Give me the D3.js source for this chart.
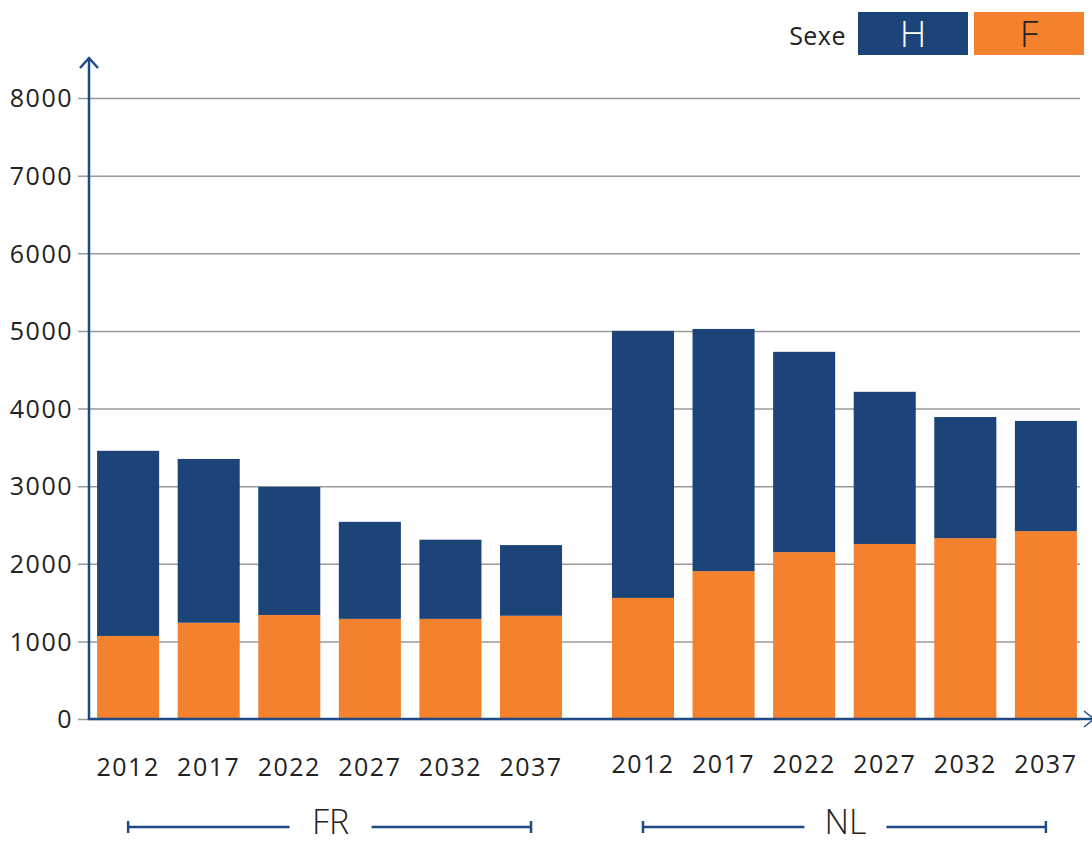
<!DOCTYPE html>
<html>
<head>
<meta charset="utf-8">
<script src="https://cdn.jsdelivr.net/npm/d3@7"></script>
<style>
    body { margin: 0; background: #fff; }
    text { font-family: "Open Sans", sans-serif; fill: #222; }
</style>
</head>
<body>
<div id="chart"></div>
<script>
// data
var groups = ["FR", "NL"];
var years = ["2012", "2017", "2022", "2027", "2032", "2037"];
var femmesFR = [1070, 1240, 1340, 1290, 1290, 1330];
var hommesFR = [2385, 2110, 1650, 1250, 1020, 910];
var femmesNL = [1560, 1905, 2150, 2255, 2330, 2420];
var hommesNL = [3440, 3120, 2580, 1960, 1560, 1420];
var yTicks = [0, 1000, 2000, 3000, 4000, 5000, 6000, 7000, 8000];
var sexes = ["F", "H"];

var colors = {H: "#1c4479", F: "#f3812e"};
var axisColor = "#1f4a85";

var width = 1092, height = 843;

var svg = d3.select("#chart").append("svg")
    .attr("width", width)
    .attr("height", height);

// build rows for the stack
var rows = [];
groups.forEach(function(g) {
    var f = g === "FR" ? femmesFR : femmesNL;
    var h = g === "FR" ? hommesFR : hommesNL;
    years.forEach(function(y, i) {
        rows.push({group: g, year: y, F: f[i], H: h[i]});
    });
});

var series = d3.stack().keys(sexes)(rows);

var yScale = d3.scaleLinear()
    .domain([0, 8000])
    .range([719, 98]);

var x0 = d3.scaleBand()
    .domain(groups)
    .range([85, 1089])
    .paddingInner(0.05);

var x1 = d3.scaleBand()
    .domain(years)
    .range([0, x0.bandwidth()])
    .paddingInner(0.23)
    .paddingOuter(0.15);

// gridlines + ticks
var yAxis = d3.axisLeft(yScale)
    .tickValues(yTicks)
    .tickSize(-(1080 - 89))
    .tickPadding(16)
    .tickFormat(d3.format("d"));

var gy = svg.append("g")
    .attr("transform", "translate(89,0)")
    .call(yAxis);
gy.select(".domain").remove();
gy.selectAll(".tick line")
    .attr("x1", -11)
    .attr("stroke", "#9a9a9a")
    .attr("stroke-width", 1.5);
gy.selectAll(".tick text")
    .style("font-size", "25px")
    .style("letter-spacing", "1.5px")
    .attr("fill", "#222")
    .attr("dy", "0.35em");

// bars
svg.append("g").selectAll("g")
    .data(series)
    .enter()
    .append("g")
    .attr("fill", function(d) { return colors[d.key]; })
    .selectAll("rect")
    .data(function(d) { return d; })
    .enter()
    .append("rect")
    .attr("x", function(d) { return x0(d.data.group) + x1(d.data.year); })
    .attr("y", function(d) { return yScale(d[1]); })
    .attr("width", x1.bandwidth())
    .attr("height", function(d) { return yScale(d[0]) - yScale(d[1]); });

// axes lines with arrows
svg.append("line")
    .attr("x1", 89).attr("x2", 89)
    .attr("y1", 720).attr("y2", 58)
    .attr("stroke", axisColor)
    .attr("stroke-width", 2.5);
svg.append("path")
    .attr("d", "M80,68 L89,58 L98,68")
    .attr("fill", "none")
    .attr("stroke", axisColor)
    .attr("stroke-width", 2.5);
svg.append("line")
    .attr("x1", 88).attr("x2", 1092)
    .attr("y1", 719).attr("y2", 719)
    .attr("stroke", axisColor)
    .attr("stroke-width", 2.5);
svg.append("path")
    .attr("d", "M1084,711 L1094,719 L1084,727")
    .attr("fill", "none")
    .attr("stroke", axisColor)
    .attr("stroke-width", 1.5);

// year labels
svg.append("g").selectAll("text")
    .data(rows)
    .enter()
    .append("text")
    .attr("x", function(d) { return x0(d.group) + x1(d.year) + x1.bandwidth() / 2; })
    .attr("y", function(d) { return d.group === "FR" ? 776 : 773; })
    .style("text-anchor", "middle")
    .style("font-size", "25px")
    .style("letter-spacing", "1.5px")
    .text(function(d) { return d.year; });

// group brackets
groups.forEach(function(g) {
    var left = x0(g) + x1(years[0]) + x1.bandwidth() / 2;
    var right = x0(g) + x1(years[years.length - 1]) + x1.bandwidth() / 2;
    var mid = (left + right) / 2;
    var yb = 827;
    var bracket = svg.append("g")
        .attr("stroke", axisColor)
        .attr("stroke-width", 2.5);
    bracket.append("line").attr("x1", left).attr("x2", mid - 40).attr("y1", yb).attr("y2", yb);
    bracket.append("line").attr("x1", mid + 42).attr("x2", right).attr("y1", yb).attr("y2", yb);
    bracket.append("line").attr("x1", left).attr("x2", left).attr("y1", yb - 6).attr("y2", yb + 6);
    bracket.append("line").attr("x1", right).attr("x2", right).attr("y1", yb - 6).attr("y2", yb + 6);
    svg.append("text")
        .attr("x", mid + 1)
        .attr("y", 834)
        .style("text-anchor", "middle")
        .style("font-size", "34px")
        .style("font-weight", 300)
        .text(g);
});

// legend
var legendKeys = ["H", "F"];
var legend = svg.append("g");
legend.append("text")
    .attr("x", 846)
    .attr("y", 45)
    .style("text-anchor", "end")
    .style("font-size", "25px")
    .style("letter-spacing", "0.5px")
    .text("Sexe");
var lg = legend.selectAll("g.key")
    .data(legendKeys)
    .enter()
    .append("g")
    .attr("class", "key")
    .attr("transform", function(d, i) { return "translate(" + (858 + i * 116) + ",12)"; });
lg.append("rect")
    .attr("width", 110)
    .attr("height", 43)
    .attr("fill", function(d) { return colors[d]; });
lg.append("text")
    .attr("x", 55)
    .attr("y", 35)
    .style("text-anchor", "middle")
    .style("font-size", "37px")
    .style("font-weight", 300)
    .style("fill", function(d) { return d === "H" ? "#fff" : "#222"; })
    .text(function(d) { return d; });
</script>
</body>
</html>
